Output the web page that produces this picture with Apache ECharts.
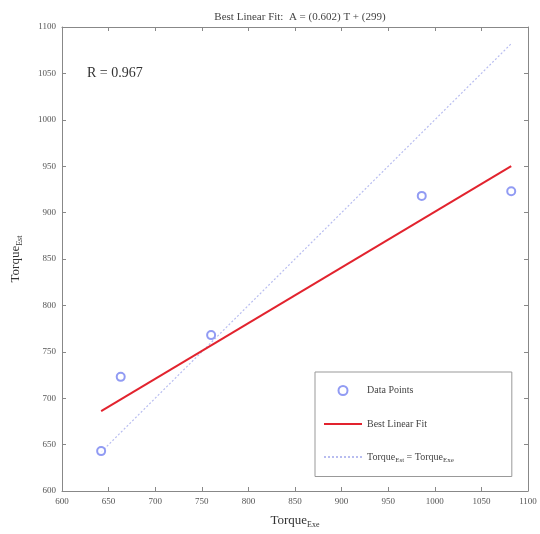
<!DOCTYPE html>
<html>
<head>
<meta charset="utf-8">
<script src="https://cdn.jsdelivr.net/npm/echarts@6/dist/echarts.min.js"></script>
<style>html,body{margin:0;padding:0;background:#fff;}#c{width:540px;height:534px;}</style>
</head>
<body>
<div id="c"></div>
<script>
// Data
var torqueExe = [642, 663, 760, 986, 1082];
var torqueEst = [643, 723, 768, 918, 923];
var fitX = [642, 1082];
var fitY = [686, 950];
var identX = [642, 1082];
var identY = [642, 1082];
var xTicks = [600, 650, 700, 750, 800, 850, 900, 950, 1000, 1050, 1100];
var yTicks = [600, 650, 700, 750, 800, 850, 900, 950, 1000, 1050, 1100];
var titleText = 'Best Linear Fit:  A = (0.602) T + (299)';
var rText = 'R = 0.967';

var FONT = 'Liberation Serif';
var axisGrey = '#888';
var labelGrey = '#555';
var markerBlue = '#7582f0';

function zip(a, b) { return a.map(function (v, i) { return [v, b[i]]; }); }

var chart = echarts.init(document.getElementById('c'));
var common = {
  type: 'value', min: xTicks[0], max: xTicks[xTicks.length - 1], interval: 50,
  splitLine: { show: false },
  axisLine: { show: true, onZero: false, lineStyle: { color: axisGrey, width: 1 } },
  axisTick: { show: true, inside: true, length: 4, lineStyle: { color: axisGrey } }
};
var subRich = {
  b: { fontFamily: FONT, fontSize: 13, color: '#333' },
  s: { fontFamily: FONT, fontSize: 8, color: '#333', verticalAlign: 'bottom', padding: [8, 0, 0, 0] }
};
var legRich = {
  b: { fontFamily: FONT, fontSize: 10, color: '#444' },
  s: { fontFamily: FONT, fontSize: 7, color: '#444', padding: [6, 0, 0, 0] }
};
var tickFmt = function (v) { return String(v); };

chart.setOption({
  animation: false,
  backgroundColor: '#fff',
  title: {
    text: titleText, left: 295, top: 7, textAlign: 'center',
    textStyle: { fontFamily: FONT, fontSize: 11, fontWeight: 'normal', color: '#444' }
  },
  grid: { left: 62, right: 12, top: 27, bottom: 41 },
  xAxis: [
    Object.assign({}, common, {
      position: 'bottom',
      name: '{b|Torque}{s|Exe}', nameLocation: 'middle', nameGap: 22,
      nameTextStyle: { rich: subRich },
      axisLabel: { fontFamily: FONT, fontSize: 9, color: labelGrey, margin: 6, formatter: tickFmt }
    }),
    Object.assign({}, common, { position: 'top', axisLabel: { show: false } })
  ],
  yAxis: [
    Object.assign({}, common, {
      min: yTicks[0], max: yTicks[yTicks.length - 1],
      position: 'left',
      name: '{b|Torque}{s|Est}', nameLocation: 'middle', nameGap: 38,
      nameTextStyle: { rich: subRich },
      axisLabel: { fontFamily: FONT, fontSize: 9, color: labelGrey, margin: 6, formatter: tickFmt }
    }),
    Object.assign({}, common, {
      min: yTicks[0], max: yTicks[yTicks.length - 1],
      position: 'right', axisLabel: { show: false }
    })
  ],
  legend: {
    orient: 'vertical', left: 315, top: 372,
    padding: [13, 58, 13, 8], itemGap: 23, itemWidth: 38, itemHeight: 9,
    backgroundColor: '#fff', borderColor: '#999', borderWidth: 1,
    textStyle: { fontFamily: FONT, fontSize: 10, color: '#444', rich: legRich },
    formatter: function (n) {
      if (n === 'identity') return '{b|Torque}{s|Est}{b| = Torque}{s|Exe}';
      return '{b|' + n + '}';
    },
    data: [
      { name: 'Data Points' },
      { name: 'Best Linear Fit', itemStyle: { opacity: 0 } },
      { name: 'identity', itemStyle: { opacity: 0 } }
    ]
  },
  graphic: [{
    type: 'text', left: 87, top: 66,
    style: { text: rText, font: '14px "Liberation Serif"', fill: '#333' }
  }],
  series: [
    {
      name: 'identity', type: 'line', data: zip(identX, identY), symbol: 'none',
      lineStyle: { color: '#b8bdf0', width: 1.2, type: [2, 2] }, itemStyle: { color: '#b8bdf0' }, z: 2
    },
    {
      name: 'Best Linear Fit', type: 'line', data: zip(fitX, fitY), symbol: 'none',
      lineStyle: { color: '#e2232e', width: 2 }, itemStyle: { color: '#e2232e' }, z: 3
    },
    {
      name: 'Data Points', type: 'scatter', data: zip(torqueExe, torqueEst),
      symbol: 'emptyCircle', symbolSize: 8,
      itemStyle: { color: markerBlue, borderColor: markerBlue, borderWidth: 1.1 }, z: 4
    }
  ]
});
</script>
</body>
</html>
